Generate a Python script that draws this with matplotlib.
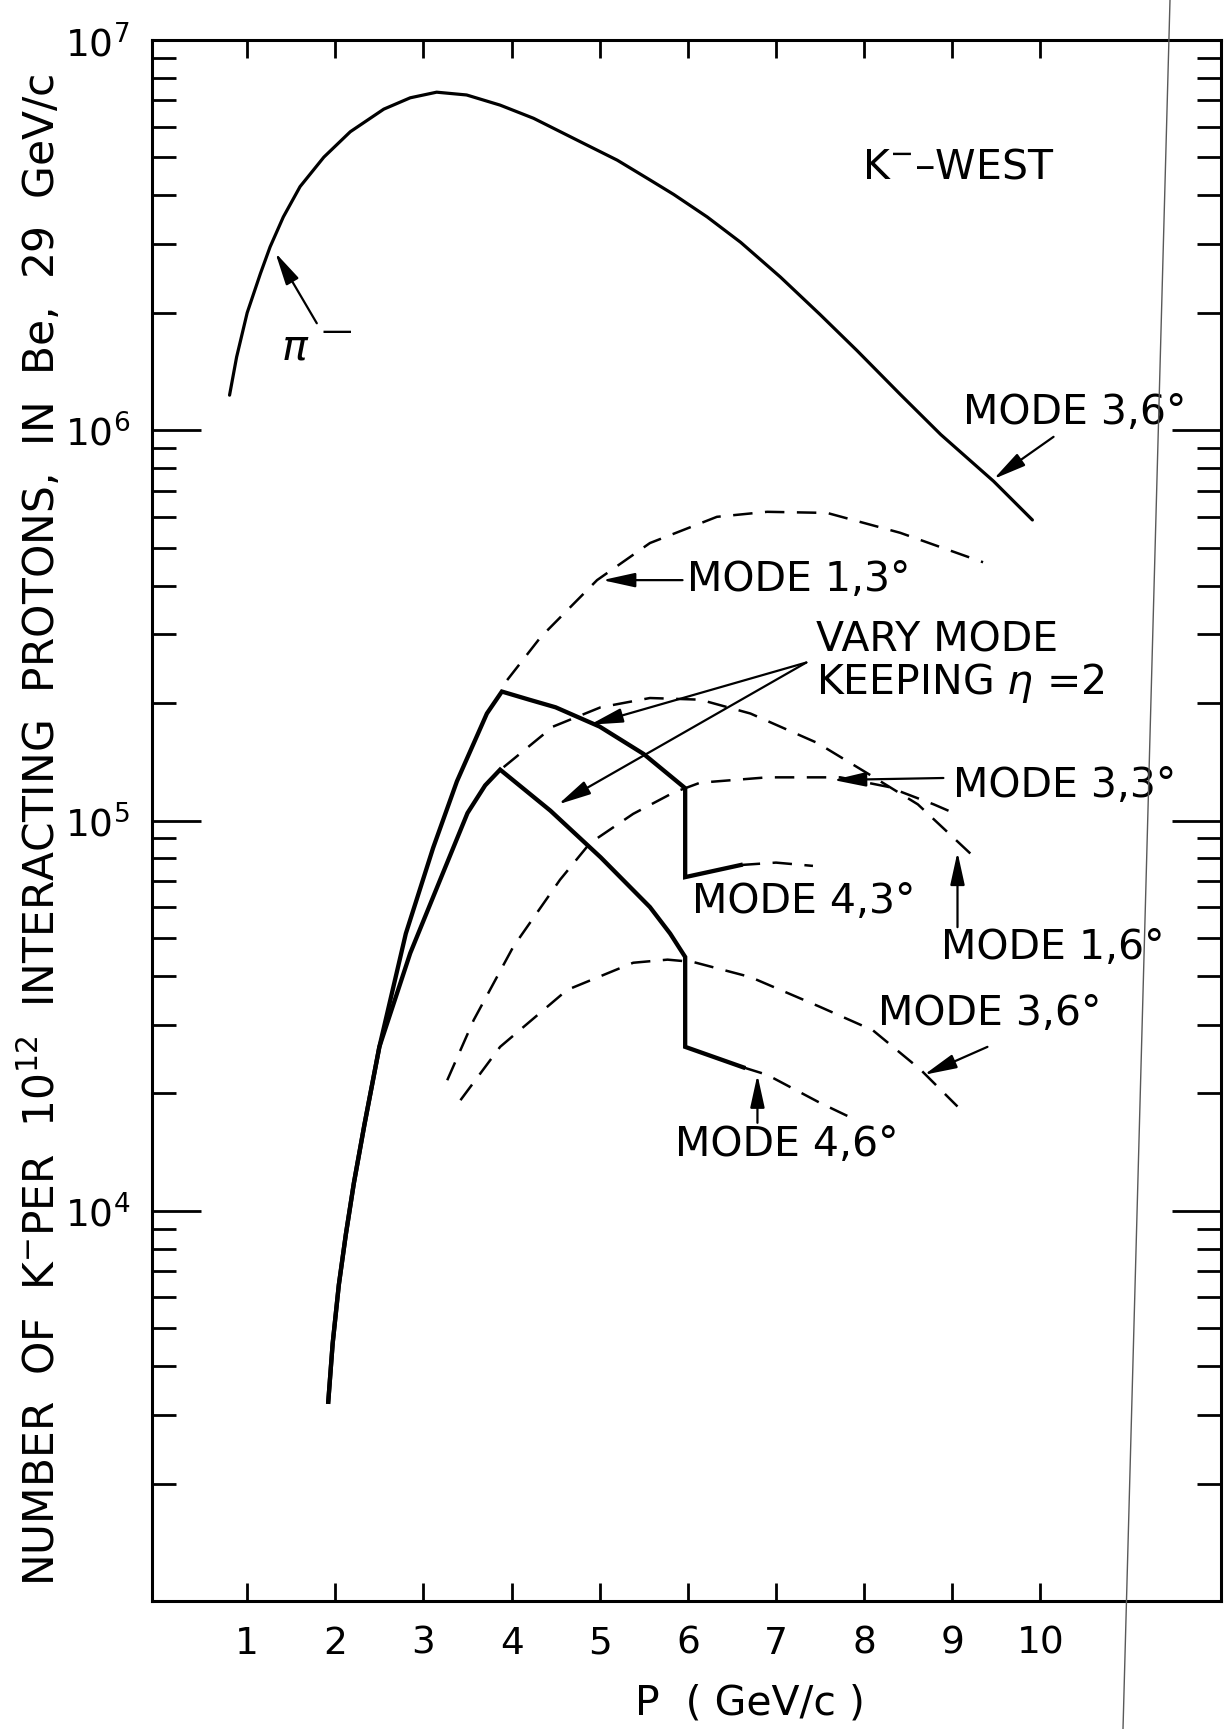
import matplotlib
matplotlib.use("Agg")
import matplotlib.pyplot as plt
from matplotlib.lines import Line2D
from matplotlib.ticker import LogLocator, NullFormatter, FixedLocator

plt.rcParams['font.family'] = ['DejaVu Sans']
plt.rcParams['mathtext.fontset'] = 'dejavusans'
plt.rcParams['lines.scale_dashes'] = False

# ---------------- data ----------------
# pi- production, solid upper curve
pi_x = [0.80, 0.88, 1.00, 1.15, 1.26, 1.41, 1.60, 1.87, 2.17, 2.55, 2.85, 3.15,
        3.49, 3.87, 4.25, 4.82, 5.20, 5.57, 5.84, 6.22, 6.60, 7.05, 7.50, 7.92,
        8.41, 8.87, 9.47, 9.91]
pi_y = [1.23e6, 1.54e6, 2.00e6, 2.52e6, 2.95e6, 3.52e6, 4.21e6, 5.01e6, 5.82e6,
        6.65e6, 7.11e6, 7.35e6, 7.23e6, 6.81e6, 6.30e6, 5.43e6, 4.92e6, 4.38e6,
        4.02e6, 3.52e6, 3.03e6, 2.47e6, 1.98e6, 1.60e6, 1.236e6, 9.75e5,
        7.40e5, 5.89e5]

# K- "vary mode keeping eta=2", 3 deg (thick solid)
eta3_x = [1.92, 1.97, 2.04, 2.12, 2.21, 2.33, 2.50, 2.80, 3.11, 3.38, 3.72,
          3.89, 4.20, 4.50, 5.00, 5.50, 5.97, 5.97, 6.60]
eta3_y = [3.24e3, 4.57e3, 6.46e3, 8.71e3, 1.175e4, 1.66e4, 2.63e4, 5.13e4,
          8.51e4, 1.26e5, 1.88e5, 2.14e5, 2.04e5, 1.95e5, 1.74e5, 1.48e5,
          1.21e5, 7.16e4, 7.69e4]

# K- "vary mode keeping eta=2", 6 deg (thick solid)
eta6_x = [1.92, 1.97, 2.04, 2.12, 2.21, 2.33, 2.50, 2.85, 3.19, 3.50, 3.70,
          3.87, 4.44, 5.01, 5.57, 5.80, 5.97, 5.97, 6.63]
eta6_y = [3.24e3, 4.57e3, 6.46e3, 8.71e3, 1.175e4, 1.66e4, 2.63e4, 4.57e4,
          7.05e4, 1.045e5, 1.23e5, 1.35e5, 1.06e5, 8.05e4, 6.0e4, 5.13e4,
          4.47e4, 2.63e4, 2.33e4]

# dashed mode curves
m13_x = [3.95, 4.33, 4.97, 5.57, 6.33, 6.90, 7.58, 8.41, 9.35]
m13_y = [2.29e5, 2.95e5, 4.13e5, 5.14e5, 6.0e5, 6.18e5, 6.14e5, 5.46e5, 4.59e5]

m16_x = [3.91, 4.47, 5.01, 5.57, 6.14, 6.71, 7.47, 8.04, 8.61, 9.29]
m16_y = [1.37e5, 1.74e5, 1.95e5, 2.06e5, 2.04e5, 1.88e5, 1.58e5, 1.32e5,
         1.10e5, 7.9e4]

m33_x = [3.27, 3.57, 4.02, 4.55, 4.89, 5.38, 5.84, 6.14, 6.90, 7.73, 8.27,
         8.79, 9.04]
m33_y = [2.16e4, 3.08e4, 4.75e4, 7.05e4, 8.75e4, 1.04e5, 1.18e5, 1.25e5,
         1.29e5, 1.29e5, 1.22e5, 1.10e5, 1.04e5]

m36_x = [3.42, 3.87, 4.63, 5.38, 5.77, 6.06, 6.71, 7.50, 8.10, 8.64, 9.06]
m36_y = [1.92e4, 2.63e4, 3.68e4, 4.32e4, 4.40e4, 4.34e4, 3.97e4, 3.33e4,
         2.90e4, 2.30e4, 1.85e4]

m43_x = [6.60, 7.00, 7.42]
m43_y = [7.69e4, 7.80e4, 7.65e4]

m46_x = [6.63, 6.90, 7.50, 7.81]
m46_y = [2.33e4, 2.23e4, 1.89e4, 1.75e4]

x_ticks = [1, 2, 3, 4, 5, 6, 7, 8, 9, 10]
x_tick_labels = ['1', '2', '3', '4', '5', '6', '7', '8', '9', '10']
y_ticks = [1e4, 1e5, 1e6, 1e7]
y_tick_labels = [r'$10^{4}$', r'$10^{5}$', r'$10^{6}$', r'$10^{7}$']

# ---------------- figure ----------------
W, H = 1228, 1729
fig = plt.figure(figsize=(W / 100, H / 100), dpi=100)
ax = fig.add_axes([152 / W, 1 - 1601 / H, (1221 - 152) / W, (1601 - 40) / H])
ax.set_yscale('log')
ax.set_xlim(-0.08, 12.05)
ax.set_ylim(1e3, 1e7)

FS = 29.5
TFS = 27
dash = (0, (14, 9))

ax.plot(pi_x, pi_y, color='black', lw=2.3, solid_capstyle='round',
        solid_joinstyle='round')
ax.plot(eta3_x, eta3_y, color='black', lw=3.1, solid_joinstyle='miter')
ax.plot(eta6_x, eta6_y, color='black', lw=3.1, solid_joinstyle='miter')
for xs, ys in [(m13_x, m13_y), (m16_x, m16_y), (m33_x, m33_y),
               (m36_x, m36_y), (m43_x, m43_y), (m46_x, m46_y)]:
    ax.plot(xs, ys, color='black', lw=1.8, linestyle=dash)

# ticks
ax.set_xticks(x_ticks)
ax.set_xticklabels(x_tick_labels, fontsize=TFS)
ax.xaxis.set_minor_locator(FixedLocator([]))
ax.yaxis.set_major_locator(FixedLocator(y_ticks))
ax.set_yticklabels(y_tick_labels, fontsize=TFS)
ax.yaxis.set_minor_locator(LogLocator(base=10, subs=range(2, 10)))
ax.yaxis.set_minor_formatter(NullFormatter())
ax.tick_params(which='both', direction='in', top=True, right=True, width=2)
ax.tick_params(axis='x', which='major', length=13, pad=18)
ax.tick_params(axis='y', which='major', length=35, pad=16)
ax.tick_params(axis='y', which='minor', length=17)
for s in ax.spines.values():
    s.set_linewidth(2.2)

# axis titles
fig.text(40 / W, 0.520,
         r'NUMBER  OF  K$^{-}$PER  10$^{12}$  INTERACTING  PROTONS,  IN  Be,  29  GeV/c',
         rotation=90, ha='center', va='center', fontsize=30.5)
fig.text(750 / W, 1 - 1703 / H, 'P  ( GeV/c )', ha='center', va='center',
         fontsize=FS)

# annotations
ax.text(7.98, 4.70e6, r'K$^{-}$–WEST', ha='left', va='center', fontsize=FS)
ax.text(1.545, 1.633e6, r'$\pi$', ha='center', va='center', fontsize=31)
ax.text(2.02, 1.79e6, '—', ha='center', va='center', fontsize=22)

arrow = dict(arrowstyle='-|>,head_length=1.0,head_width=0.22', color='black',
             lw=1.6, mutation_scale=20, shrinkA=0, shrinkB=0)


def label_arrow(txt, tx, ty, ax0, ay0, ax1, ay1):
    ax.text(tx, ty, txt, ha='left', va='center', fontsize=FS)
    ax.annotate('', xy=(ax1, ay1), xytext=(ax0, ay0), arrowprops=arrow)


ax.annotate('', xy=(1.32, 2.85e6), xytext=(1.79, 1.88e6), arrowprops=arrow)
label_arrow('MODE 3,6°', 9.12, 1.107e6, 10.15, 9.62e5, 9.47, 7.5e5)
label_arrow('MODE 1,3°', 5.99, 4.13e5, 5.94, 4.13e5, 5.03, 4.13e5)
ax.text(7.46, 2.90e5, 'VARY MODE', ha='left', va='center', fontsize=FS)
ax.text(7.45, 2.25e5, r'KEEPING $\eta$ =2', ha='left', va='center', fontsize=FS)
ax.annotate('', xy=(4.89, 1.76e5), xytext=(7.345, 2.54e5), arrowprops=arrow)
ax.annotate('', xy=(4.53, 1.10e5), xytext=(7.345, 2.54e5), arrowprops=arrow)
label_arrow('MODE 3,3°', 9.01, 1.225e5, 8.90, 1.285e5, 7.65, 1.27e5)
ax.text(6.05, 6.18e4, 'MODE 4,3°', ha='left', va='center', fontsize=FS)
label_arrow('MODE 1,6°', 8.87, 4.71e4, 9.06, 5.33e4, 9.06, 8.3e4)
label_arrow('MODE 3,6°', 8.16, 3.19e4, 9.40, 2.63e4, 8.68, 2.23e4)
label_arrow('MODE 4,6°', 5.86, 1.47e4, 6.79, 1.68e4, 6.79, 2.23e4)

# stray scan line present in the reference
fig.add_artist(Line2D([1170 / W, 1123 / W], [1, 0], transform=fig.transFigure,
                      color='0.35', lw=1.0))

fig.savefig('out.png', dpi=100, facecolor='white')
